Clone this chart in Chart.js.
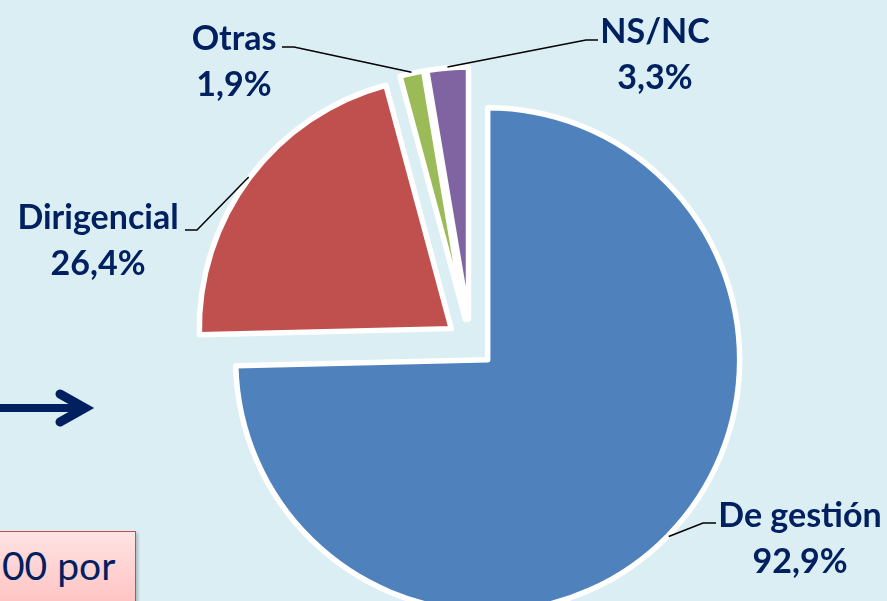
<!DOCTYPE html>
<html lang="es">
<head>
<meta charset="utf-8">
<title>Tipo de formación</title>
<script src="https://cdn.jsdelivr.net/npm/chart.js@4.4.1/dist/chart.umd.min.js"></script>
<style>
  html, body { margin:0; padding:0; width:887px; height:601px; overflow:hidden; background:#daeef3; }
  #wrap { position:relative; width:887px; height:601px; }
  #grafico { position:absolute; left:0; top:0; }
  .flecha { position:absolute; left:0; top:380px; }
  .nota { position:absolute; left:-40px; top:531px; width:176px; height:90px; box-sizing:border-box;
          border:1.5px solid #c0504d; background:linear-gradient(#ffe3e3,#ffbcbc);
          box-shadow:2px 2px 3px rgba(0,0,0,.22); }
  .nota span { position:absolute; left:41px; top:10px; font:39px Lato, sans-serif; color:#002060; white-space:nowrap; }
</style>
</head>
<body>
<div id="wrap">
  <svg class="flecha" width="110" height="60">
    <line x1="0" y1="28" x2="80" y2="28" stroke="#002060" stroke-width="8"/>
    <polyline points="60,14 85,28 60,42" fill="none" stroke="#002060" stroke-width="9" stroke-linecap="round" stroke-linejoin="miter"/>
  </svg>
  <div class="nota"><span>00 por</span></div>
  <canvas id="grafico" width="887" height="601"></canvas>
</div>
<script>
// datos
const categorias = ['De gestión', 'Dirigencial', 'Otras', 'NS/NC'];
const porcentajes = [92.9, 26.4, 1.9, 3.3];

// separación de cada porción (px) y posición de los rótulos
const separacion = 24;
const rotulos = [
  { x: 800, y: 527, codo: [703, 523], fin: [716, 523] },
  { x: 98, y: 229, codo: [197, 230], fin: [185, 230] },
  { x: 234, y: 50, codo: [294, 47], fin: [282, 47] },
  { x: 655, y: 43, codo: [586, 40], fin: [598, 40] }
];

const formato = v => v.toFixed(1).replace('.', ',') + '%';

// dibuja las porciones desplazadas hacia fuera
const separarPorciones = {
  id: 'separarPorciones',
  beforeDatasetDraw(chart, args) {
    const ctx = chart.ctx;
    args.meta.data.forEach(arc => {
      const mid = (arc.startAngle + arc.endAngle) / 2;
      ctx.save();
      ctx.translate(Math.cos(mid) * separacion, Math.sin(mid) * separacion);
      arc.draw(ctx);
      ctx.restore();
    });
    return false;
  }
};

const rotulosPlugin = {
  id: 'rotulos',
  afterDraw(chart) {
    const ctx = chart.ctx;
    const meta = chart.getDatasetMeta(0);
    ctx.save();
    meta.data.forEach((arc, i) => {
      const mid = (arc.startAngle + arc.endAngle) / 2;
      const r = arc.outerRadius + separacion + 1;
      const l = rotulos[i];
      ctx.beginPath();
      ctx.moveTo(arc.x + Math.cos(mid) * r, arc.y + Math.sin(mid) * r);
      ctx.lineTo(l.codo[0], l.codo[1]);
      ctx.lineTo(l.fin[0], l.fin[1]);
      ctx.strokeStyle = '#000';
      ctx.lineWidth = 1.5;
      ctx.stroke();

      ctx.fillStyle = '#002060';
      ctx.font = 'bold 34px Lato, sans-serif';
      ctx.textAlign = 'center';
      ctx.textBaseline = 'alphabetic';
      ctx.fillText(categorias[i], l.x, l.y);
      ctx.fillText(formato(porcentajes[i]), l.x, l.y + 46);
    });
    ctx.restore();
  }
};

function dibujar() {
  new Chart(document.getElementById('grafico'), {
    type: 'pie',
    data: {
      labels: categorias,
      datasets: [{
        data: porcentajes,
        backgroundColor: ['#4f81bd', '#c0504d', '#9bbb59', '#8064a2'],
        borderColor: '#ffffff',
        borderWidth: 5.5,
        borderJoinStyle: 'round'
      }]
    },
    options: {
      responsive: false,
      animation: false,
      events: [],
      radius: 252,
      layout: { padding: { left: 54, right: 0, top: 85, bottom: 0 } },
      plugins: {
        legend: { display: false },
        tooltip: { enabled: false }
      }
    },
    plugins: [separarPorciones, rotulosPlugin]
  });
}

if (document.fonts && document.fonts.load) {
  document.fonts.load('bold 34px Lato').then(dibujar, dibujar);
} else {
  dibujar();
}
</script>
</body>
</html>
